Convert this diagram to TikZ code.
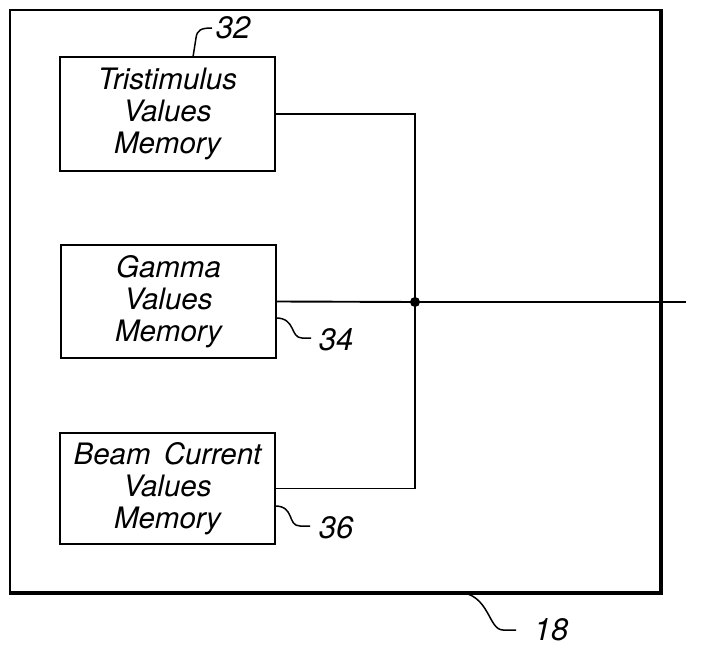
\documentclass[tikz,border=0pt]{standalone}
\usepackage{fontspec}
\setmainfont{TeX Gyre Heros}
\begin{document}
\begin{tikzpicture}[x=1pt,y=-1pt,
  mem/.style={draw, line width=2.2pt, minimum width=215pt, align=center, inner sep=0pt,
              font=\fontsize{29.5}{32}\selectfont\itshape},
  wire/.style={line width=1.9pt},
  lead/.style={line width=1.5pt},
  lbl/.style={font=\fontsize{31}{32}\selectfont\itshape, inner sep=0pt}]
\useasboundingbox (0,0) rectangle (712,652);
% outer box 18
\node[draw, line width=1.8pt, minimum width=650pt, minimum height=582pt, inner sep=0pt] (outer) at (335,301) {};
\draw[line width=3.5pt] (outer.north east) -- (outer.south east) -- (outer.south west);
% memories
\node[mem, minimum height=114pt] (tri) at (167.5,114) {Tristimulus\\Values\\Memory};
\node[mem, minimum height=113pt] (gam) at (168.5,301.5) {Gamma\\Values\\Memory};
\node[mem, minimum height=111pt] (beam) at (167.5,488.5) {Beam\ \,Current\\Values\\Memory};
% wiring
\coordinate (j) at (415,302);
\coordinate (out) at (686,302);
\draw[wire] (tri.east) -| (j);
\draw[wire] (beam.east) -| (j);
\draw[wire] (gam.east) -- (j);
\draw[wire] (j) -- (out);
\fill (j) circle (5pt);
% reference labels
\node[lbl] (l32) at (233,28) {32};
\coordinate (a32) at (193,57);
\draw[lead] (a32) -- (196,38) .. controls (197,30) and (201,28) .. (212,28);
\node[lbl] (l34) at (336,340) {34};
\coordinate (a34) at (276,318);
\draw[lead] (a34) .. controls (296,318) and (290,338) .. (302,338) -- (311,338);
\node[lbl] (l36) at (336,528) {36};
\coordinate (a36) at (275,506);
\draw[lead] (a36) .. controls (295,506) and (287,526) .. (300,526) -- (310,526);
\node[lbl] (l18) at (551,630) {18};
\coordinate (a18) at (458,592);
\draw[lead] (a18) .. controls (490,594) and (488,630) .. (503,630) -- (516,630);
\end{tikzpicture}
\end{document}
